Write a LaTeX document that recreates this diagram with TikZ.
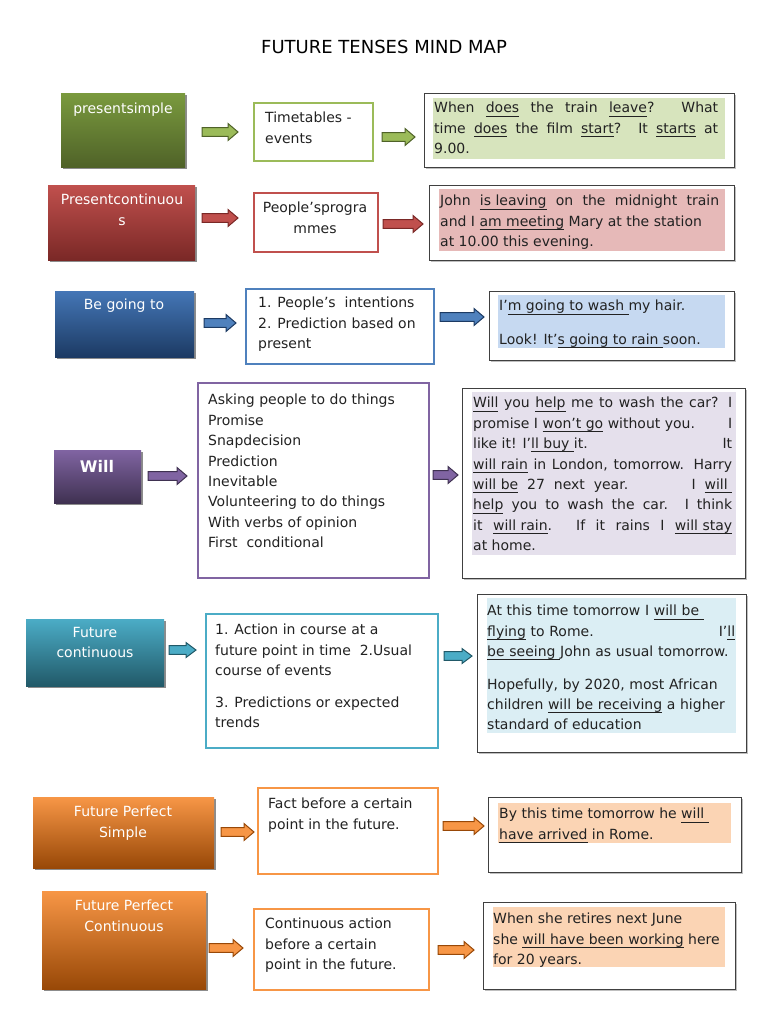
\documentclass[tikz,border=0pt]{standalone}
\usepackage{fontspec}
\setmainfont{DejaVu Sans}
\usetikzlibrary{shadows}
\definecolor{gA}{HTML}{7A9A3E}\definecolor{gB}{HTML}{4F6228}
\definecolor{rA}{HTML}{C0504D}\definecolor{rB}{HTML}{7A2826}
\definecolor{bA}{HTML}{4476B6}\definecolor{bB}{HTML}{1C3A63}
\definecolor{pA}{HTML}{8064A2}\definecolor{pB}{HTML}{3F3151}
\definecolor{tA}{HTML}{4BACC6}\definecolor{tB}{HTML}{215968}
\definecolor{oA}{HTML}{F79646}\definecolor{oB}{HTML}{984807}
\definecolor{cG}{HTML}{9BBB59}\definecolor{fG}{HTML}{D7E4BD}
\definecolor{cR}{HTML}{C0504D}\definecolor{fR}{HTML}{E6B9B8}
\definecolor{cB}{HTML}{4F81BD}\definecolor{fB}{HTML}{C6D9F1}
\definecolor{cP}{HTML}{8064A2}\definecolor{fP}{HTML}{E5E0EC}
\definecolor{cT}{HTML}{4BACC6}\definecolor{fT}{HTML}{DBEEF4}
\definecolor{cO}{HTML}{F79646}\definecolor{fO}{HTML}{FBD4B4}
\definecolor{ink}{HTML}{222222}
\newcommand\fs{\fontsize{14}{20.4}\selectfont}
\newsavebox\ubox
\newcommand\uu[1]{\leavevmode\sbox\ubox{#1}\rlap{\rule[-3.6pt]{\wd\ubox}{0.8pt}}\usebox\ubox}
\newcommand\barrow[6]{%
  \filldraw[fill=#1, draw=#2, line width=1pt, line join=miter]
    (#3,#5-4.3) -- (#4-10,#5-4.3) -- (#4-10,#5-#6) -- (#4,#5) -- (#4-10,#5+#6) -- (#4-10,#5+4.3) -- (#3,#5+4.3) -- cycle;}
\begin{document}
\begin{tikzpicture}[x=1pt,y=-1pt,
  tense/.style={anchor=north west, inner sep=0pt, draw=none,
     drop shadow={shadow xshift=2pt, shadow yshift=-2pt, opacity=0.45, fill=black}},
  tlabel/.style={anchor=north, inner sep=0pt, text=white, font=\fs, align=center},
  desc/.style={anchor=north west, inner sep=0pt, fill=white, line width=1.8pt},
  ex/.style={anchor=north west, inner sep=0pt, draw=black!75, line width=1.3pt, fill=white,
     drop shadow={shadow xshift=1pt, shadow yshift=-1pt, opacity=0.25, fill=black}},
  txt/.style={anchor=north west, inner sep=0pt, font=\fs, text=ink, align=left},
  jtxt/.style={anchor=north west, inner sep=0pt, font=\fs, text=ink, align=justify}]
\fill[white] (0,0) rectangle (768,1024);
\useasboundingbox (0,0) rectangle (768,1024);

\node[font=\fontsize{18}{21}\selectfont, text=black, inner sep=0pt] (title) at (384,47) {FUTURE TENSES MIND MAP};

% Row 1: present simple
\node[tense, top color=gA, bottom color=gB, minimum width=124pt, minimum height=74pt] (t1) at (61,93) {};
\node[tlabel] (t1l) at (123,103) {presentsimple};
\barrow{cG}{gB}{202}{238}{132}{8.5}
\node[desc, draw=cG, minimum width=119pt, minimum height=58pt] (d1) at (253,102) {};
\node[txt] (d1t) at (265,112) {Timetables -\\events};
\barrow{cG}{gB}{382}{415}{137}{8.5}
\node[ex, minimum width=310pt, minimum height=74pt] (e1) at (424,93) {};
\fill[fG] (433,98) rectangle (725,159);
\node[jtxt, text width=284pt] (e1t) at (434,102) {When \uu{does} the train \uu{leave}? What\linebreak time \uu{does} the film \uu{start}? It \uu{starts} at\linebreak 9.00.};

% Row 2: present continuous
\node[tense, top color=rA, bottom color=rB, minimum width=147pt, minimum height=75pt] (t2) at (48,185) {};
\node[tlabel] (t2l) at (122,194) {Presentcontinuou\\s};
\barrow{cR}{rB}{202}{238}{218}{8.5}
\node[desc, draw=cR, minimum width=124pt, minimum height=59pt] (d2) at (253,192) {};
\node[txt, anchor=north, align=center] (d2t) at (315,202) {People’sprogra\\mmes};
\barrow{cR}{rB}{383}{423}{224}{8.5}
\node[ex, minimum width=305pt, minimum height=75pt] (e2) at (429,185) {};
\fill[fR] (439,189) rectangle (725,251);
\node[jtxt, text width=279pt] (e2t) at (440,195) {John \uu{is leaving} on the midnight train\linebreak and I \uu{am meeting} Mary at the station\newline at 10.00 this evening.};

% Row 3: be going to
\node[tense, top color=bA, bottom color=bB, minimum width=139pt, minimum height=66pt] (t3) at (55,291) {};
\node[tlabel] (t3l) at (124,299) {Be going to};
\barrow{cB}{bB}{204}{236}{323}{8.5}
\node[desc, draw=cB, minimum width=188pt, minimum height=75pt] (d3) at (245,288) {};
\node[txt] (d3t) at (258,297) {1. People’s~ intentions\\2. Prediction based on\\present};
\barrow{cB}{bB}{440}{484}{317}{8.5}
\node[ex, minimum width=245pt, minimum height=69pt] (e3) at (489,291) {};
\fill[fB] (498,295) rectangle (725,348);
\node[txt] (e3t) at (499,300) {I’\uu{m going to wash\ }my hair.\\[13pt]Look! It’\uu{s going to rain\ }soon.};

% Row 4: will
\node[tense, top color=pA, bottom color=pB, minimum width=87pt, minimum height=53pt] (t4) at (54,450) {};
\node[tlabel, font=\bfseries\fontsize{16}{19}\selectfont] (t4l) at (97,460) {Will};
\barrow{cP}{pB}{148}{187}{476}{8.5}
\node[desc, draw=cP, minimum width=231pt, minimum height=195pt] (d4) at (197,382) {};
\node[txt] (d4t) at (208,394) {Asking people to do things\\Promise\\Snapdecision\\Prediction\\Inevitable\\Volunteering to do things\\With verbs of opinion\\First~ conditional};
\barrow{cP}{pB}{433}{458}{475}{8.5}
\node[ex, minimum width=283pt, minimum height=190pt] (e4) at (462,388) {};
\fill[fP] (472,392) rectangle (736,555);
\node[jtxt, text width=259pt] (e4t) at (473,397) {\uu{Will} you \uu{help} me to wash the car? I\linebreak promise I \uu{won’t go} without you.\hfill I\newline like it! I’\uu{ll buy\ }it.\hfill It\newline \uu{will rain} in London, tomorrow. Harry\linebreak \uu{will be}~ 27~ next~ year.\hfill I~ \uu{will\ }\newline \uu{help} you to wash the car. I think\linebreak it \uu{will rain}. If it rains I \uu{will stay}\linebreak at home.};

% Row 5: future continuous
\node[tense, top color=tA, bottom color=tB, minimum width=138pt, minimum height=67pt] (t5) at (26,619) {};
\node[tlabel] (t5l) at (95,627) {Future\\continuous};
\barrow{cT}{tB}{169}{196}{650}{7.5}
\node[desc, draw=cT, minimum width=232pt, minimum height=134pt] (d5) at (205,613) {};
\node[txt] (d5t) at (215,624) {1. Action in course at a\\future point in time~ 2.Usual\\course of events\\[11pt]3. Predictions or expected\\trends};
\barrow{cT}{tB}{444}{472}{656}{7.5}
\node[ex, minimum width=269pt, minimum height=158pt] (e5) at (477,594) {};
\fill[fT] (487,598) rectangle (736,733);
\node[txt, text width=248pt] (e5t) at (487,605) {At this time tomorrow I \uu{will be\ }\\\uu{flying} to Rome.\hfill I’\uu{ll}\\\uu{be seeing\ }John as usual tomorrow.\\[12pt]Hopefully, by 2020, most African\\children \uu{will be receiving} a higher\\standard of education};

% Row 6: future perfect simple
\node[tense, top color=oA, bottom color=oB, minimum width=181pt, minimum height=71pt] (t6) at (33,797) {};
\node[tlabel] (t6l) at (123,806) {Future Perfect\\Simple};
\barrow{cO}{oB}{221}{254}{832}{8.5}
\node[desc, draw=cO, minimum width=180pt, minimum height=86pt] (d6) at (257,787) {};
\node[txt] (d6t) at (268,798) {Fact before a certain\\point in the future.};
\barrow{cO}{oB}{443}{484}{826}{8.5}
\node[ex, minimum width=253pt, minimum height=75pt] (e6) at (488,797) {};
\fill[fO] (498,803) rectangle (731,843);
\node[txt] (e6t) at (499,808) {By this time tomorrow he \uu{will\ }\\\uu{have arrived} in Rome.};

% Row 7: future perfect continuous
\node[tense, top color=oA, bottom color=oB, minimum width=164pt, minimum height=98pt] (t7) at (42,891) {};
\node[tlabel] (t7l) at (124,900) {Future Perfect\\Continuous};
\barrow{cO}{oB}{209}{243}{948}{8.5}
\node[desc, draw=cO, minimum width=175pt, minimum height=81pt] (d7) at (253,908) {};
\node[txt] (d7t) at (265,918) {Continuous action\\before a certain\\point in the future.};
\barrow{cO}{oB}{438}{474}{950}{8.5}
\node[ex, minimum width=252pt, minimum height=87pt] (e7) at (483,902) {};
\fill[fO] (493,907) rectangle (725,967);
\node[txt] (e7t) at (493,913) {When she retires next June\\she \uu{will have been working} here\\for 20 years.};
\end{tikzpicture}
\end{document}
